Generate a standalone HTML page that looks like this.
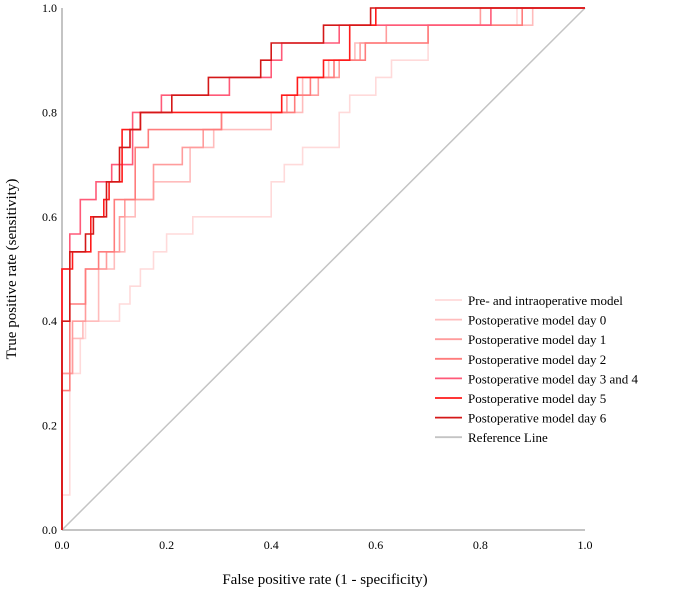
<!DOCTYPE html>
<html><head><meta charset="utf-8"><style>
body{margin:0;background:#fff}
svg{display:block;font-family:"Liberation Serif",serif}
</style></head><body>
<svg width="694" height="592">
<g id="axes"></g>
<g id="curves"></g>
<g id="legend"></g>
<text x="325" y="584" font-size="15" text-anchor="middle">False positive rate (1 - specificity)</text>
<text transform="translate(16,269) rotate(-90)" font-size="15" text-anchor="middle">True positive rate (sensitivity)</text>
</svg>
<script>
const ticks=[0,0.2,0.4,0.6,0.8,1.0];
const tickLabels=["0.0","0.2","0.4","0.6","0.8","1.0"];
const seriesNames=["Pre- and intraoperative model","Postoperative model day 0","Postoperative model day 1","Postoperative model day 2","Postoperative model day 3 and 4","Postoperative model day 5","Postoperative model day 6"];
const seriesColors=["#ffdada","#ffbcbc","#ff9c9c","#ff7c7c","#ff5a78","#ff1a1a","#d41818"];
const preFpr=[0,0,0.015,0.015,0.035,0.035,0.045,0.045,0.11,0.11,0.13,0.13,0.15,0.15,0.175,0.175,0.2,0.2,0.25,0.25,0.4,0.4,0.425,0.425,0.46,0.46,0.53,0.53,0.55,0.55,0.6,0.6,0.63,0.63,0.7,0.7,0.87,0.87,1];
const preTpr=[0,0.067,0.067,0.3,0.3,0.367,0.367,0.4,0.4,0.433,0.433,0.467,0.467,0.5,0.5,0.533,0.533,0.567,0.567,0.6,0.6,0.667,0.667,0.7,0.7,0.733,0.733,0.8,0.8,0.833,0.833,0.867,0.867,0.9,0.9,0.967,0.967,1,1];
const d0Fpr=[0,0,0.02,0.02,0.04,0.04,0.07,0.07,0.1,0.1,0.12,0.12,0.14,0.14,0.175,0.175,0.245,0.245,0.29,0.29,0.4,0.4,0.46,0.46,0.51,0.51,0.56,0.56,0.7,0.7,0.9,0.9,1];
const d0Tpr=[0,0.3,0.3,0.367,0.367,0.4,0.4,0.5,0.5,0.533,0.533,0.6,0.6,0.633,0.633,0.667,0.667,0.733,0.733,0.767,0.767,0.8,0.8,0.867,0.867,0.9,0.9,0.933,0.933,0.967,0.967,1,1];
const d1Fpr=[0,0,0.02,0.02,0.045,0.045,0.085,0.085,0.11,0.11,0.12,0.12,0.175,0.175,0.23,0.23,0.27,0.27,0.305,0.305,0.43,0.43,0.49,0.49,0.53,0.53,0.57,0.57,0.62,0.62,0.8,0.8,1];
const d1Tpr=[0,0.3,0.3,0.4,0.4,0.5,0.5,0.533,0.533,0.6,0.6,0.633,0.633,0.7,0.7,0.733,0.733,0.767,0.767,0.8,0.8,0.833,0.833,0.867,0.867,0.9,0.9,0.933,0.933,0.967,0.967,1,1];
const d2Fpr=[0,0,0.015,0.015,0.045,0.045,0.07,0.07,0.1,0.1,0.14,0.14,0.165,0.165,0.305,0.305,0.445,0.445,0.475,0.475,0.52,0.52,0.58,0.58,0.7,0.7,0.88,0.88,1];
const d2Tpr=[0,0.267,0.267,0.433,0.433,0.5,0.5,0.533,0.533,0.633,0.633,0.733,0.733,0.767,0.767,0.8,0.8,0.833,0.833,0.867,0.867,0.9,0.9,0.933,0.933,0.967,0.967,1,1];
const d34Fpr=[0,0,0.015,0.015,0.035,0.035,0.065,0.065,0.095,0.095,0.135,0.135,0.19,0.19,0.32,0.32,0.4,0.4,0.42,0.42,0.53,0.53,0.82,0.82,1];
const d34Tpr=[0,0.5,0.5,0.567,0.567,0.633,0.633,0.667,0.667,0.7,0.7,0.8,0.8,0.833,0.833,0.867,0.867,0.9,0.9,0.933,0.933,0.967,0.967,1,1];
const d5Fpr=[0,0,0.02,0.02,0.055,0.055,0.08,0.08,0.09,0.09,0.115,0.115,0.15,0.15,0.42,0.42,0.45,0.45,0.5,0.5,0.55,0.55,0.6,0.6,1];
const d5Tpr=[0,0.5,0.5,0.533,0.533,0.6,0.6,0.633,0.633,0.667,0.667,0.767,0.767,0.8,0.8,0.833,0.833,0.867,0.867,0.9,0.9,0.967,0.967,1,1];
const d6Fpr=[0,0,0.015,0.015,0.045,0.045,0.06,0.06,0.085,0.085,0.11,0.11,0.13,0.13,0.15,0.15,0.21,0.21,0.28,0.28,0.38,0.38,0.4,0.4,0.5,0.5,0.59,0.59,1];
const d6Tpr=[0,0.4,0.4,0.533,0.533,0.567,0.567,0.6,0.6,0.667,0.667,0.733,0.733,0.767,0.767,0.8,0.8,0.833,0.833,0.867,0.867,0.9,0.9,0.933,0.933,0.967,0.967,1,1];
const allFpr=[preFpr,d0Fpr,d1Fpr,d2Fpr,d34Fpr,d5Fpr,d6Fpr];
const allTpr=[preTpr,d0Tpr,d1Tpr,d2Tpr,d34Tpr,d5Tpr,d6Tpr];

const NS="http://www.w3.org/2000/svg";
const X0=62,X1=585,Y0=530,Y1=8;
const sx=v=>X0+(X1-X0)*v, sy=v=>Y0-(Y0-Y1)*v;
function mk(tag,attrs,parent){const e=document.createElementNS(NS,tag);for(const k in attrs)e.setAttribute(k,attrs[k]);parent.appendChild(e);return e;}
const axes=document.getElementById('axes'),curves=document.getElementById('curves'),legend=document.getElementById('legend');
let a=mk('line',{x1:X0,y1:Y0,x2:X1,y2:Y0,stroke:'#b0b0b0','stroke-width':1.5},axes);


a=mk('line',{x1:X0,y1:Y0,x2:X0,y2:Y1,stroke:'#b0b0b0','stroke-width':1.5},axes);


ticks.forEach((t,i)=>{
  let tx=mk('text',{x:sx(t),y:Y0+19,'font-size':12,'text-anchor':'middle'},axes);tx.textContent=tickLabels[i];
  
  
  let ty=mk('text',{x:X0-5,y:sy(t)+4,'font-size':12,'text-anchor':'end'},axes);ty.textContent=tickLabels[i];
  
  
});
let ref=mk('line',{x1:sx(0),y1:sy(0),x2:sx(1),y2:sy(1),stroke:'#c4c4c4','stroke-width':1.5},curves);


allFpr.forEach((f,i)=>{
  const pts=f.map((v,j)=>sx(v).toFixed(1)+','+sy(allTpr[i][j]).toFixed(1)).join(' ');
  const p=mk('polyline',{points:pts,fill:'none',stroke:seriesColors[i],'stroke-width':1.6},curves);
  
  
});
const names=seriesNames.concat(["Reference Line"]), cols=seriesColors.concat(["#c4c4c4"]);
names.forEach((n,i)=>{
  const y=300+i*19.6;
  const g=mk('g',{},legend);
  
  
  mk('line',{x1:435,y1:y,x2:462,y2:y,stroke:cols[i],'stroke-width':1.8},g);
  const t=mk('text',{x:468,y:y+5,'font-size':13},g);t.textContent=n;
});
</script>
</body></html>
